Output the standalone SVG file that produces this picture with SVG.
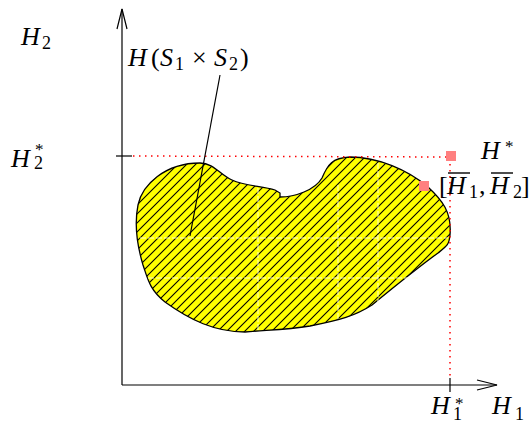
<svg xmlns="http://www.w3.org/2000/svg" width="529" height="423" viewBox="0 0 529 423">
<style>
.t{font-family:"Liberation Serif",serif;font-size:26px;fill:#000}
.i{font-style:italic}
.s{font-size:18px}
.st{font-size:17px}
.ax{stroke:#000;stroke-width:1.2;fill:none}
.red{stroke:#ff0000;stroke-width:1.5;stroke-dasharray:1.5 4.5;fill:none}
.sq{fill:#ff8080}
</style>
<defs>
<pattern id="hatch" patternUnits="userSpaceOnUse" width="9" height="9">
<rect width="9" height="9" fill="#ffff00"/>
<path d="M-1,10 L10,-1 M-2,2 L2,-2 M7,11 L11,7" stroke="#000" stroke-width="1.1"/>
</pattern>
</defs>
<rect width="529" height="423" fill="#fff"/>
<g id="region">
<path d="M200,163 C214,163 220,175 232,180 C245,186 262,186 275,190 L280,193 L280,197 C295,197 315,190 322,178 C328,164 332,158 350,157 C378,157 408,170 428,187 C442,200 452,212 450,235 C449,245 447,246 438,253 C420,266 400,282 372,305 C355,316 340,320 310,326 C285,330 265,330 245,332 C215,332 190,320 165,302 C150,290 148,280 143,265 C137,245 134,225 138,205 C142,185 165,163 200,163 Z" fill="url(#hatch)" stroke="#000" stroke-width="1.3"/>
<g stroke="#ffffe0" stroke-width="1" stroke-dasharray="6 2" opacity="0.9">
<line x1="258" y1="188" x2="258" y2="330"/>
<line x1="338" y1="185" x2="338" y2="322"/>
<line x1="378" y1="163" x2="378" y2="303"/>
<line x1="140" y1="238" x2="448" y2="238"/>
<line x1="148" y1="278" x2="418" y2="278"/>
</g>
</g>
<g id="connectors">
<polyline class="red" points="133,156 450,157 450,378"/>
<line class="ax" x1="122" y1="385" x2="122" y2="9"/>
<polyline class="ax" points="117,29 122,9 127,29"/>
<line class="ax" x1="122" y1="385" x2="497" y2="385"/>
<polyline class="ax" points="477,380 497,385 477,390"/>
<line class="ax" x1="116" y1="156" x2="132" y2="156"/>
<line class="ax" x1="450" y1="378" x2="450" y2="392"/>
<line stroke="#000" stroke-width="1.2" x1="220" y1="75" x2="190" y2="236"/>
</g>
<g id="points">
<rect class="sq" x="446" y="151" width="10" height="10"/>
<rect class="sq" x="419" y="181" width="10" height="10"/>
</g>
<g id="labels">
<text class="t" x="21" y="45"><tspan class="i">H</tspan><tspan class="s" x="42" dy="4">2</tspan></text>
<text class="t" x="128" y="66"><tspan class="i">H</tspan><tspan x="151">(</tspan><tspan class="i" x="160">S</tspan><tspan class="s" x="175" dy="4">1</tspan><tspan x="192" dy="-4">×</tspan><tspan class="i" x="214">S</tspan><tspan class="s" x="229" dy="4">2</tspan><tspan x="240" dy="-4">)</tspan></text>
<text class="t" x="11" y="167"><tspan class="i">H</tspan><tspan class="st" x="35" dy="-12">*</tspan><tspan class="s" x="34" dy="14">2</tspan></text>
<text class="t" x="481" y="159"><tspan class="i">H</tspan><tspan class="st" x="505" dy="-7">*</tspan></text>
<text class="t" x="439" y="194">[<tspan class="i" x="447">H</tspan><tspan class="s" x="469" dy="4">1</tspan><tspan x="479" dy="-4">,</tspan><tspan class="i" x="490">H</tspan><tspan class="s" x="513" dy="4">2</tspan><tspan x="521" dy="-4">]</tspan></text>
<line x1="448" y1="173" x2="470" y2="173" stroke="#000" stroke-width="1.4"/>
<line x1="491" y1="173" x2="513" y2="173" stroke="#000" stroke-width="1.4"/>
<text class="t" x="431" y="414"><tspan class="i">H</tspan><tspan class="st" x="455" dy="-5">*</tspan><tspan class="s" x="453" dy="11">1</tspan></text>
<text class="t" x="492" y="414"><tspan class="i">H</tspan><tspan class="s" x="515" dy="6">1</tspan></text>
</g>
</svg>
